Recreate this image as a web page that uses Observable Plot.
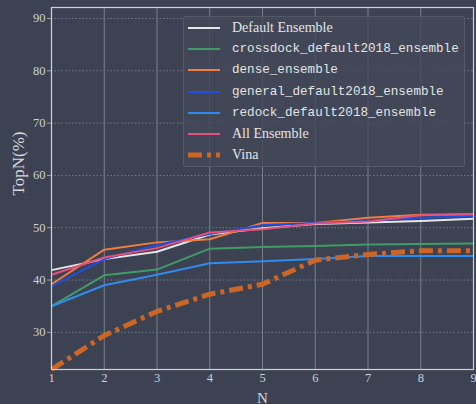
<!DOCTYPE html>
<html>
<head>
<meta charset="utf-8">
<script src="https://cdn.jsdelivr.net/npm/d3@7"></script>
<script src="https://cdn.jsdelivr.net/npm/@observablehq/plot@0.6"></script>
<style>
  html, body { margin: 0; padding: 0; background: #3c4252; }
  #wrap { position: relative; width: 476px; height: 404px; overflow: hidden; }
  #legend {
    position: absolute; left: 183px; top: 16px; width: 282px; height: 151px;
    background: rgba(66, 72, 88, 0.82); border: 1px solid rgba(120, 126, 140, 0.35);
    border-radius: 3px; box-sizing: border-box;
  }
  .row { position: absolute; left: 0; height: 20px; display: flex; align-items: center; }
  .row svg { margin-left: 4px; }
  .row span { margin-left: 12px; color: #e4e4e4; white-space: nowrap; }
  .serif { font-family: "Liberation Serif", serif; font-size: 14px; }
  .mono { font-family: "Liberation Mono", "DejaVu Sans Mono", monospace; font-size: 12.6px; }
</style>
</head>
<body>
<div id="wrap"><div id="legend"></div></div>
<script>
// N values on the x axis and tick values
const nValues = [1, 2, 3, 4, 5, 6, 7, 8, 9];
const xTicks = [1, 2, 3, 4, 5, 6, 7, 8, 9];
const yTicks = [30, 40, 50, 60, 70, 80, 90];

// TopN (%) for each scoring setup
const defaultEnsemble   = [41.9, 44.0, 45.4, 48.7, 49.9, 50.7, 51.0, 51.3, 51.7];
const crossdockEnsemble = [35.0, 40.9, 42.0, 46.0, 46.3, 46.5, 46.8, 46.9, 47.0];
const denseEnsemble     = [39.2, 45.8, 47.2, 47.8, 50.9, 50.9, 51.9, 52.5, 52.6];
const generalEnsemble   = [38.8, 44.0, 46.7, 48.8, 50.5, 50.9, 51.3, 51.9, 52.2];
const redockEnsemble    = [35.0, 39.0, 41.0, 43.2, 43.6, 44.0, 44.6, 44.6, 44.6];
const allEnsemble       = [41.0, 44.3, 46.1, 49.1, 49.7, 50.8, 51.2, 52.4, 52.6];
const vina              = [22.9, 29.4, 34.0, 37.3, 39.2, 43.8, 44.9, 45.6, 45.6];

const seriesNames = [
  "Default Ensemble",
  "crossdock_default2018_ensemble",
  "dense_ensemble",
  "general_default2018_ensemble",
  "redock_default2018_ensemble",
  "All Ensemble",
  "Vina"
];
const seriesValues = [defaultEnsemble, crossdockEnsemble, denseEnsemble, generalEnsemble, redockEnsemble, allEnsemble, vina];
const seriesColors = ["#e6e6e6", "#3f9c68", "#f07c40", "#1f4fe0", "#2f8bef", "#e3507c", "#cc6628"];
const seriesFonts = ["serif", "mono", "mono", "mono", "mono", "serif", "serif"];

const rows = seriesNames.flatMap((name, i) =>
  nValues.map((n, j) => ({series: name, idx: i, n, v: seriesValues[i][j]}))
);

const lineMarks = seriesNames.map((name, i) =>
  Plot.line(rows.filter(d => d.series === name), {
    x: "n", y: "v",
    stroke: seriesColors[i],
    strokeWidth: name === "Vina" ? 5 : 2,
    strokeDasharray: name === "Vina" ? "14,5,4,5" : null,
    strokeLinecap: "butt",
    strokeLinejoin: "round"
  })
);

const chart = Plot.plot({
  width: 476,
  height: 404,
  marginLeft: 51,
  marginRight: 3,
  marginTop: 7,
  marginBottom: 35,
  style: {background: "transparent", color: "#cfd1d6", fontFamily: "Liberation Serif, serif", fontSize: "12.5px"},
  x: {domain: [1, 9]},
  y: {domain: [22.9, 92.1]},
  marks: [
    Plot.gridX(xTicks, {stroke: "#80858f", strokeOpacity: 0.9, strokeWidth: 1}),
    Plot.gridY(yTicks, {stroke: "#737886", strokeOpacity: 1, strokeDasharray: "1.5,2"}),
    ...lineMarks,
    Plot.frame({stroke: "#cfd1d6", strokeWidth: 1.2}),
    Plot.axisX(xTicks, {tickSize: 0, tickPadding: 4, label: null, tickFormat: d => d}),
    Plot.axisY(yTicks, {tickSize: 4, tickPadding: 2, label: null, stroke: "#a0a4ad"}),
    Plot.text(["N"], {frameAnchor: "bottom", lineAnchor: "bottom", dy: 33, fontSize: 15, fill: "#d6d8dc"}),
    Plot.text(["TopN(%)"], {frameAnchor: "left", dx: -33, dy: 7, rotate: -90, fontSize: 17, fill: "#d6d8dc"})
  ]
});
document.getElementById("wrap").prepend(chart);

// Legend rows
const legend = d3.select("#legend");
seriesNames.forEach((name, i) => {
  const row = legend.append("div").attr("class", "row").style("top", (1 + i * 21.2) + "px");
  const sw = row.append("svg").attr("width", 32).attr("height", 8);
  sw.append("line")
    .attr("x1", 0).attr("x2", 32).attr("y1", 4).attr("y2", 4)
    .attr("stroke", seriesColors[i])
    .attr("stroke-width", name === "Vina" ? 5 : 2)
    .attr("stroke-dasharray", name === "Vina" ? "14,5,4,5" : null);
  row.append("span").attr("class", seriesFonts[i]).text(name);
});
</script>
</body>
</html>
